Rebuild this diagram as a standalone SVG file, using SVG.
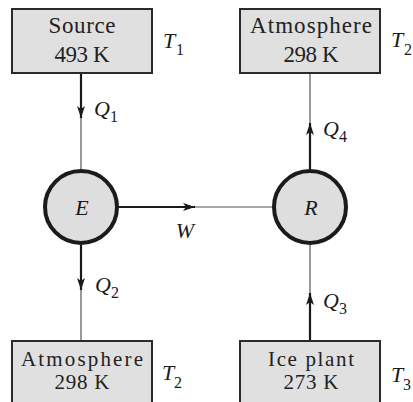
<svg xmlns="http://www.w3.org/2000/svg" width="413" height="402" viewBox="0 0 413 402">
<defs>
<style>
.box{fill:#e0e0e0;stroke:#2a2a2a;stroke-width:2}
.circ{fill:#dedede;stroke:#1e1a1a;stroke-width:4}
.lbl{font-family:"Liberation Serif","Times New Roman",serif;font-size:23px;fill:#222;text-anchor:middle}
.lbs{font-family:"Liberation Serif","Times New Roman",serif;font-size:21px;fill:#222;text-anchor:middle}
.it{font-family:"Liberation Serif","Times New Roman",serif;font-style:italic;font-size:22px;fill:#1a1a1a}
.sub{font-family:"Liberation Serif","Times New Roman",serif;font-size:16px;fill:#1a1a1a}
.thick{stroke:#1a1a1a;stroke-width:2.2;fill:none}
.thin{stroke:#555;stroke-width:1.2;fill:none}
</style>
<marker id="ah" viewBox="0 0 12 8" refX="12" refY="4" markerWidth="12" markerHeight="8" markerUnits="userSpaceOnUse" orient="auto">
<path d="M0,0 L12,4 L0,8 L3,4 Z" fill="#1a1a1a"/>
</marker>
</defs>

<g id="connectors">
<line class="thick" x1="81" y1="73" x2="81" y2="118" marker-end="url(#ah)"/>
<line class="thin" x1="81" y1="118" x2="81" y2="169"/>
<line class="thick" x1="81" y1="245" x2="81" y2="290" marker-end="url(#ah)"/>
<line class="thin" x1="81" y1="290" x2="81" y2="341"/>
<line class="thick" x1="310" y1="341" x2="310" y2="293" marker-end="url(#ah)"/>
<line class="thin" x1="310" y1="293" x2="310" y2="245"/>
<line class="thick" x1="310" y1="169" x2="310" y2="123" marker-end="url(#ah)"/>
<line class="thin" x1="310" y1="123" x2="310" y2="73"/>
<line class="thick" x1="119" y1="207" x2="195" y2="207" marker-end="url(#ah)"/>
<line class="thin" x1="195" y1="207" x2="273" y2="207"/>
<text class="it" x="94" y="116">Q</text><text class="sub" x="110" y="122">1</text>
<text class="it" x="95" y="292">Q</text><text class="sub" x="111" y="298">2</text>
<text class="it" x="323" y="308">Q</text><text class="sub" x="339" y="314">3</text>
<text class="it" x="323" y="136">Q</text><text class="sub" x="339" y="142">4</text>
<text class="it" x="185" y="238" text-anchor="middle">W</text>
</g>

<g id="source">
<rect class="box" x="12" y="9" width="140" height="64"/>
<text class="lbl" x="82" y="33" textLength="67" lengthAdjust="spacing">Source</text>
<text class="lbl" x="82" y="62" textLength="55" lengthAdjust="spacing">493 K</text>
<text class="it" x="163" y="48">T</text><text class="sub" x="176" y="55">1</text>
</g>

<g id="atmosphere-top">
<rect class="box" x="240" y="9" width="140" height="64"/>
<text class="lbl" x="311" y="33" textLength="122" lengthAdjust="spacing">Atmosphere</text>
<text class="lbl" x="311" y="62" textLength="55" lengthAdjust="spacing">298 K</text>
<text class="it" x="391" y="47">T</text><text class="sub" x="404" y="55">2</text>
</g>

<g id="engine">
<circle class="circ" cx="81" cy="207" r="36"/>
<text class="it" x="82" y="215" text-anchor="middle">E</text>
</g>

<g id="refrigerator">
<circle class="circ" cx="310" cy="207" r="36"/>
<text class="it" x="311" y="215" text-anchor="middle">R</text>
</g>

<g id="atmosphere-bottom">
<rect class="box" x="12" y="341" width="140" height="70"/>
<text class="lbs" x="82" y="366" textLength="122" lengthAdjust="spacing">Atmosphere</text>
<text class="lbs" x="82" y="389" textLength="55" lengthAdjust="spacing">298 K</text>
<text class="it" x="162" y="380">T</text><text class="sub" x="174" y="388">2</text>
</g>

<g id="ice-plant">
<rect class="box" x="240" y="341" width="140" height="70"/>
<text class="lbs" x="311" y="366" textLength="86" lengthAdjust="spacing">Ice plant</text>
<text class="lbs" x="311" y="389" textLength="55" lengthAdjust="spacing">273 K</text>
<text class="it" x="391" y="382">T</text><text class="sub" x="403" y="390">3</text>
</g>
</svg>
